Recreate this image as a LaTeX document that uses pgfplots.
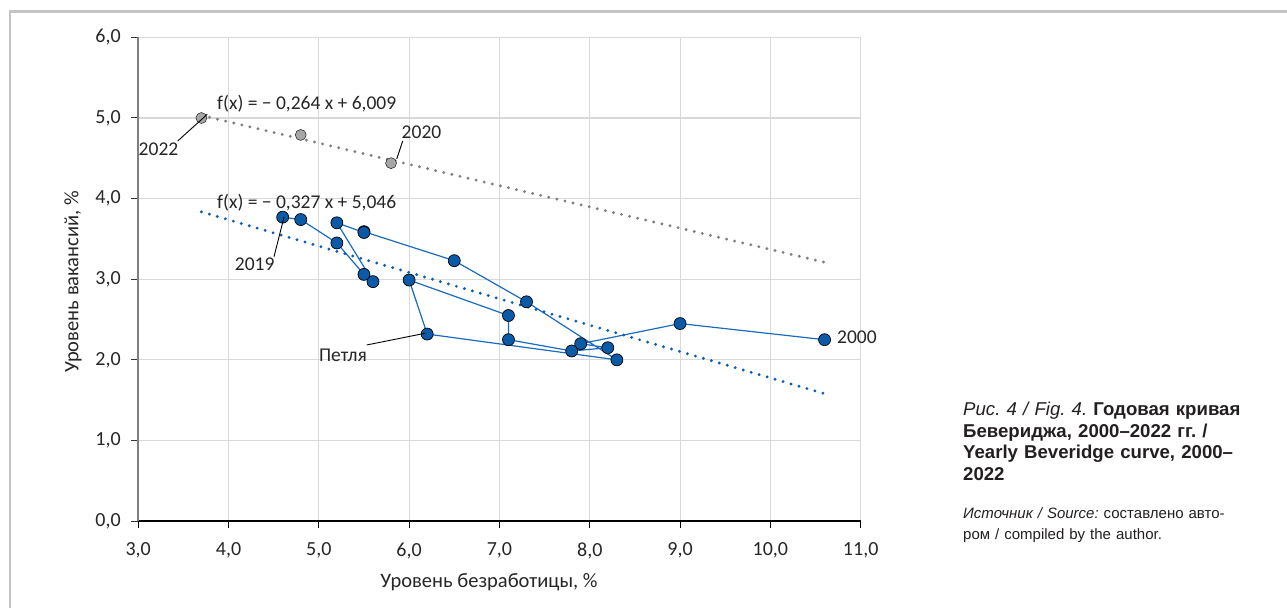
\documentclass[border=0pt]{standalone}
\usepackage{pgfplots}
\pgfplotsset{compat=1.18}
\usepackage{pgfplotstable}
\usepackage{fontspec}
\setmainfont{Carlito}
\newfontfamily\capfont{Liberation Sans}
\definecolor{txt}{HTML}{262626}
\definecolor{bluept}{HTML}{0B5AA8}
\definecolor{blueln}{HTML}{1A6BBF}
\definecolor{bluetr}{HTML}{0B5DB5}
\definecolor{gridc}{HTML}{D9D9D9}
\definecolor{graypt}{HTML}{A6A6A6}
\definecolor{graytr}{HTML}{7F7F7F}
\definecolor{framec}{HTML}{C4C4C4}
\definecolor{capc}{HTML}{231F20}

% 2000-2019
\pgfplotstableread{
x y
10.6 2.25
9.0 2.45
7.9 2.20
8.2 2.15
7.8 2.11
7.1 2.25
7.1 2.55
6.0 2.99
6.2 2.32
8.3 2.00
7.3 2.72
6.5 3.23
5.5 3.59
5.5 3.58
5.2 3.70
5.6 2.97
5.5 3.06
5.2 3.45
4.8 3.74
4.6 3.77
}\earlydata
% 2020-2022
\pgfplotstableread{
x y
5.8 4.44
4.8 4.79
3.7 5.00
}\latedata

\begin{document}
\frenchspacing
\begin{tikzpicture}[x=1bp,y=1bp]
\path[use as bounding box] (0,0) rectangle (1287,608);
\draw[framec, line width=2.5bp] (10,0) -- (10,596.5) -- (1287,596.5);
\begin{axis}[
  at={(153,107.8)}, anchor=south west,
  width=722.5bp, height=483.7bp, scale only axis,
  xmin=3, xmax=11, ymin=0, ymax=6,
  xtick={3,4,...,11}, ytick={0,1,...,6},
  axis x line*=bottom, axis y line*=left,
  x axis line style={black, line width=1.4bp, -},
  y axis line style={graytr, line width=1.6bp, -},
  tick align=outside, major tick length=7bp,
  x tick style={black, line width=1bp},
  y tick style={black!80, line width=1bp},
  grid=major, major grid style={gridc, line width=1.1bp},
  /pgf/number format/.cd, use comma, fixed, fixed zerofill, precision=1, assume math mode=true,
  /pgfplots/.cd,
  ticklabel style={font=\fontsize{20bp}{22bp}\selectfont, text=txt},
  xticklabel style={yshift=-11bp},
  yticklabel style={xshift=-7bp},
  clip=false,
]
\addplot[blueln, line width=1.2bp, mark=*, mark size=6bp,
  mark options={fill=bluept, draw=black, line width=0.7bp}] table {\earlydata};
\addplot[only marks, mark=*, mark size=5.5bp, mark options={fill=graypt, draw=none}] table {\latedata};
\addplot[graytr, line width=3.2bp, line cap=round, dash pattern=on 0bp off 8.3bp] coordinates {(3.7,5.032) (10.6,3.211)};
\addplot[bluetr, line width=3.2bp, line cap=round, dash pattern=on 0bp off 8.3bp] coordinates {(3.7,3.836) (10.6,1.580)};
\end{axis}

\begin{scope}[every node/.style={font=\fontsize{19.5bp}{22bp}\selectfont, text=txt, inner sep=0pt}]
\node[anchor=base west] at (217,498) {f(x) = − 0,264 x + 6,009};
\node[anchor=base west] at (217,399) {f(x) = − 0,327 x + 5,046};
\node[anchor=base] at (158.5,452) {2022};
\node[anchor=base] at (421.5,469) {2020};
\node[anchor=base] at (254.7,337.3) {2019};
\node[anchor=base] at (343,246) {Петля};
\node[anchor=base west] at (837,264) {2000};
\node[font=\fontsize{20.5bp}{22bp}\selectfont] at (489,26) {Уровень безработицы, \%};
\node[rotate=90, font=\fontsize{20.5bp}{22bp}\selectfont] at (73,326) {Уровень вакансий, \%};
\end{scope}
\draw[black, line width=0.9bp] (177.7,467) -- (207.3,493.7);
\draw[black, line width=0.9bp] (402.7,467) -- (396.7,449);
\draw[black, line width=0.9bp] (274,351.3) -- (284,390.7);
\draw[black, line width=0.9bp] (366.7,263) -- (425,274.7);

\node[anchor=north west, align=left, inner sep=0pt, text=capc, text width=320bp,
  font=\capfont\fontsize{18.6bp}{21.5bp}\selectfont] at (963,206) {%
  \textit{Рис. 4 / Fig. 4.} \textbf{Годовая кривая}\\
  \textbf{Бевериджа, 2000–2022 гг. /}\\
  \textbf{Yearly Beveridge curve, 2000–}\\
  \textbf{2022}};
\node[anchor=north west, align=left, inner sep=0pt, text=capc, text width=320bp,
  font=\capfont\fontsize{15bp}{21bp}\selectfont] at (963,101) {%
  \textit{Источник / Source:} составлено авто-\\
  ром / compiled by the author.};
\end{tikzpicture}
\end{document}
